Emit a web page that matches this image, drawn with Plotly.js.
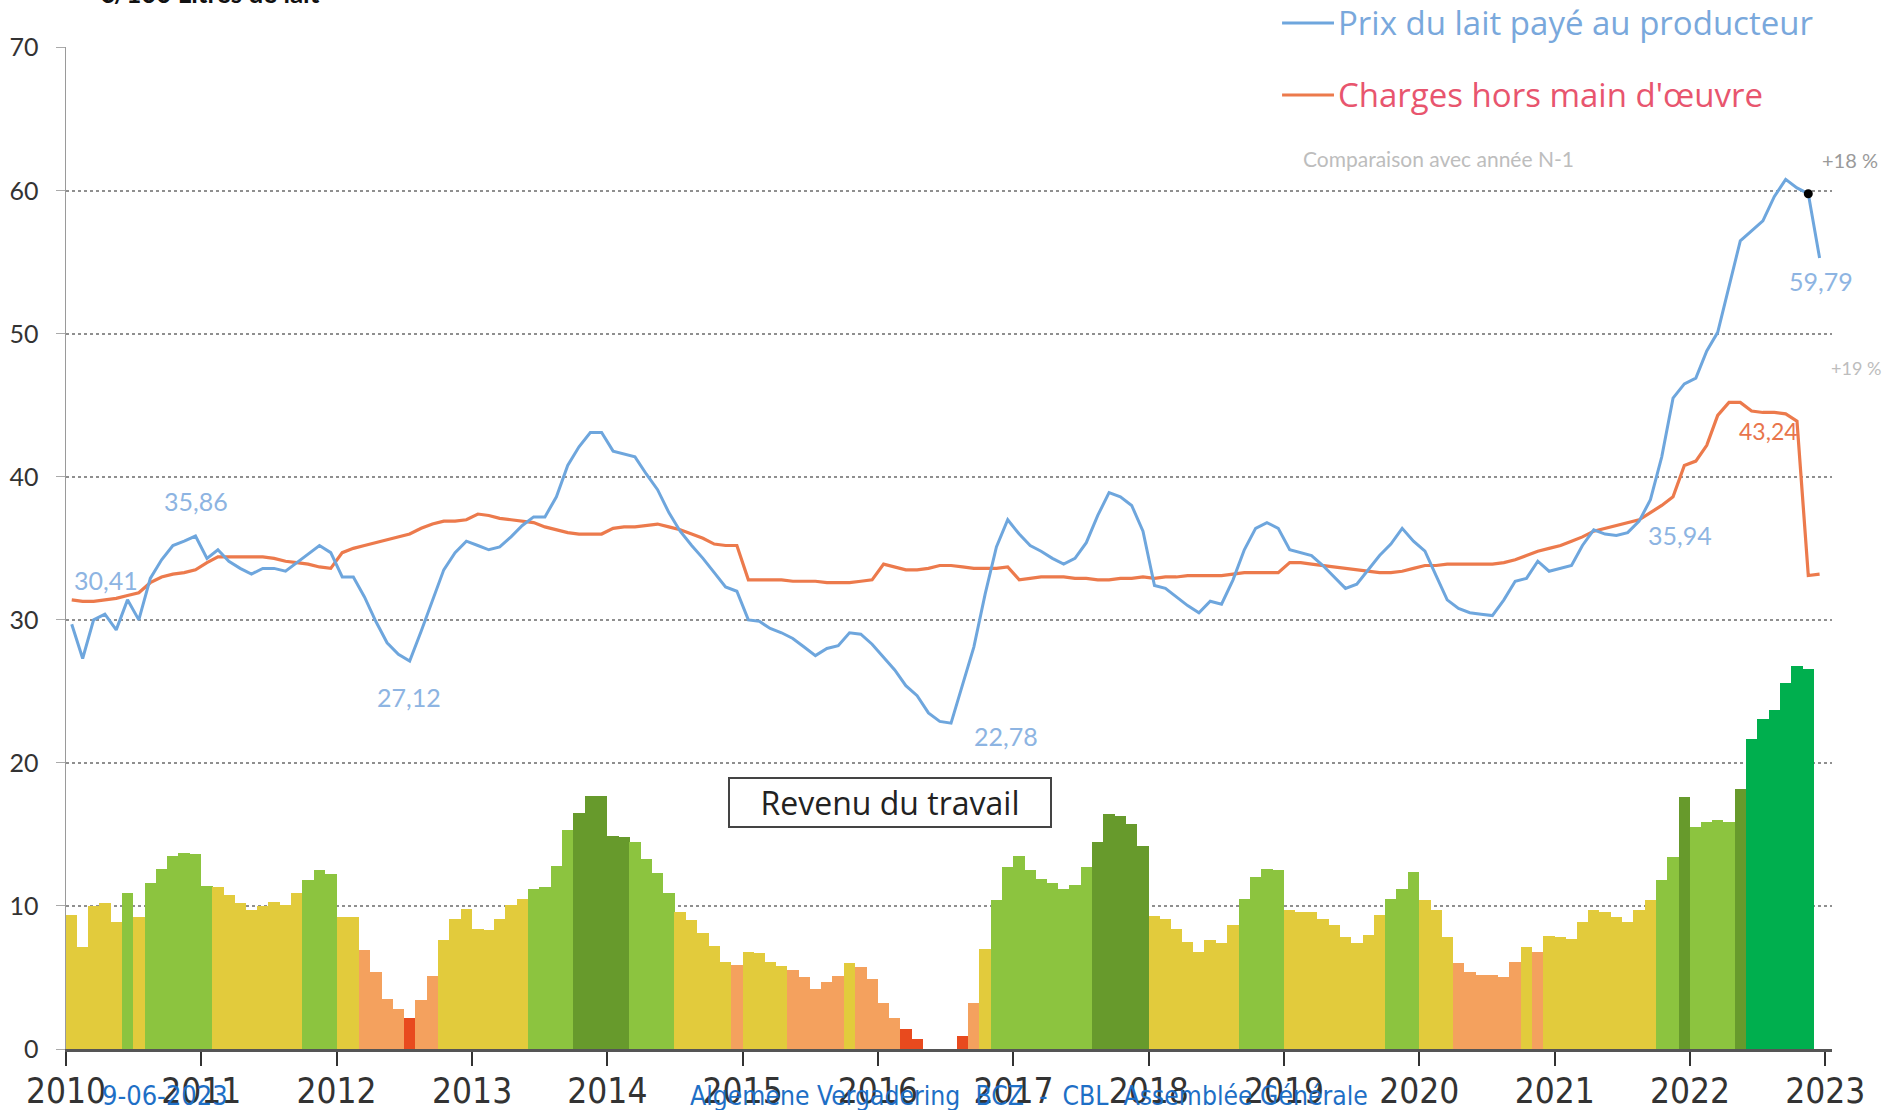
<!DOCTYPE html>
<html>
<head>
<meta charset="utf-8">
<script src="https://cdn.plot.ly/plotly-3.0.1.min.js"></script>
<style>
html,body{margin:0;padding:0;background:#fff;}
#chart{width:1893px;height:1110px;}
</style>
</head>
<body>
<div id="chart"></div>
<script>
// ---- Data (monthly, Jan 2010 .. Dec 2022) ----
const years = [2010,2011,2012,2013,2014,2015,2016,2017,2018,2019,2020,2021,2022];
const yearTicks = ['2010','2011','2012','2013','2014','2015','2016','2017','2018','2019','2020','2021','2022','2023'];

// Prix du lait payé au producteur (€/100 l)
const milkPrice = [
  29.7,27.3,30.0,30.4,29.3,31.4,30.0,32.9,34.2,35.2,35.5,35.86,
  34.3,34.9,34.1,33.6,33.2,33.6,33.6,33.4,34.0,34.6,35.2,34.7,
  33.0,33.0,31.6,29.9,28.4,27.6,27.12,29.2,31.3,33.5,34.7,35.5,
  35.2,34.9,35.1,35.8,36.6,37.2,37.2,38.6,40.8,42.1,43.1,43.1,
  41.8,41.6,41.4,40.2,39.1,37.5,36.2,35.2,34.3,33.3,32.3,32.0,
  30.0,29.9,29.4,29.1,28.7,28.1,27.5,28.0,28.2,29.1,29.0,28.3,
  27.4,26.5,25.4,24.7,23.5,22.9,22.78,25.5,28.1,31.8,35.1,37.0,
  36.0,35.2,34.8,34.3,33.9,34.3,35.4,37.3,38.9,38.6,38.0,36.2,
  32.4,32.2,31.6,31.0,30.5,31.3,31.1,32.8,34.9,36.4,36.8,36.4,
  34.9,34.7,34.5,33.8,33.0,32.2,32.5,33.5,34.5,35.3,36.4,35.5,
  34.8,33.1,31.4,30.8,30.5,30.4,30.3,31.4,32.7,32.9,34.1,33.4,
  33.6,33.8,35.2,36.3,36.0,35.9,36.1,36.9,38.4,41.4,45.5,46.5,
  46.9,48.8,50.1,53.3,56.5,57.2,57.9,59.6,60.8,60.2,59.79,55.3
];

// Charges hors main d'oeuvre (€/100 l)
const costs = [
  31.4,31.3,31.3,31.4,31.5,31.7,31.9,32.6,33.0,33.2,33.3,33.5,
  34.0,34.4,34.4,34.4,34.4,34.4,34.3,34.1,34.0,33.9,33.7,33.6,
  34.7,35.0,35.2,35.4,35.6,35.8,36.0,36.4,36.7,36.9,36.9,37.0,
  37.4,37.3,37.1,37.0,36.9,36.8,36.5,36.3,36.1,36.0,36.0,36.0,
  36.4,36.5,36.5,36.6,36.7,36.5,36.3,36.0,35.7,35.3,35.2,35.2,
  32.8,32.8,32.8,32.8,32.7,32.7,32.7,32.6,32.6,32.6,32.7,32.8,
  33.9,33.7,33.5,33.5,33.6,33.8,33.8,33.7,33.6,33.6,33.6,33.7,
  32.8,32.9,33.0,33.0,33.0,32.9,32.9,32.8,32.8,32.9,32.9,33.0,
  32.9,33.0,33.0,33.1,33.1,33.1,33.1,33.2,33.3,33.3,33.3,33.3,
  34.0,34.0,33.9,33.8,33.7,33.6,33.5,33.4,33.3,33.3,33.4,33.6,
  33.8,33.8,33.9,33.9,33.9,33.9,33.9,34.0,34.2,34.5,34.8,35.0,
  35.2,35.5,35.8,36.2,36.4,36.6,36.8,37.0,37.5,38.0,38.6,40.8,
  41.1,42.2,44.3,45.2,45.2,44.6,44.5,44.5,44.4,43.9,33.1,33.2
];

// Revenu du travail (bars, Jan 2010 .. Nov 2022)
const income = [
  9.4,7.1,10.0,10.2,8.9,10.9,9.2,11.6,12.6,13.5,13.7,13.6,
  11.4,11.3,10.8,10.2,9.7,10.0,10.3,10.1,10.9,11.8,12.5,12.2,
  9.2,9.2,6.9,5.4,3.5,2.8,2.2,3.4,5.1,7.6,9.1,9.8,
  8.4,8.3,9.1,10.1,10.5,11.2,11.3,12.8,15.3,16.5,17.7,17.7,
  14.9,14.8,14.5,13.3,12.3,10.9,9.6,9.0,8.1,7.2,6.1,5.9,
  6.8,6.7,6.1,5.8,5.5,5.0,4.2,4.7,5.1,6.0,5.7,4.9,
  3.2,2.2,1.4,0.7,0,0,0,0.9,3.2,7.0,10.4,12.7,
  13.5,12.5,11.9,11.6,11.2,11.5,12.7,14.5,16.4,16.3,15.7,14.2,
  9.3,9.1,8.4,7.5,6.8,7.6,7.4,8.7,10.5,12.0,12.6,12.5,
  9.7,9.6,9.6,9.1,8.7,7.8,7.4,8.0,9.4,10.5,11.2,12.4,
  10.4,9.7,7.8,6.0,5.4,5.2,5.2,5.0,6.1,7.1,6.8,7.9,
  7.8,7.7,8.9,9.7,9.6,9.2,8.9,9.7,10.4,11.8,13.4,17.6,
  15.5,15.9,16.0,15.9,18.2,21.7,23.1,23.7,25.6,26.8,26.6
];

// Colour class of each income bar
const incomeClass = [
  'Y','Y','Y','Y','Y','G','Y','G','G','G','G','G',
  'G','Y','Y','Y','Y','Y','Y','Y','Y','G','G','G',
  'Y','Y','O','O','O','O','R','O','O','Y','Y','Y',
  'Y','Y','Y','Y','Y','G','G','G','G','D','D','D',
  'D','D','G','G','G','G','Y','Y','Y','Y','Y','O',
  'Y','Y','Y','Y','O','O','O','O','O','Y','O','O',
  'O','O','R','R','R','R','R','R','O','Y','G','G',
  'G','G','G','G','G','G','G','D','D','D','D','D',
  'Y','Y','Y','Y','Y','Y','Y','Y','G','G','G','G',
  'Y','Y','Y','Y','Y','Y','Y','Y','Y','G','G','G',
  'Y','Y','Y','O','O','O','O','O','O','Y','O','Y',
  'Y','Y','Y','Y','Y','Y','Y','Y','Y','G','G','D',
  'G','G','G','G','D','B','B','B','B','B','B'
];
const classColors = {Y:'#E2CB3C', G:'#8CC43F', D:'#679A2C', B:'#00AF4E', O:'#F4A15E', R:'#E84A1E'};

// Month categories
const months = [];
years.forEach(y => { for (let m = 1; m <= 12; m++) months.push(y + '-' + String(m).padStart(2,'0') + '-01'); });

if (milkPrice.length !== months.length || costs.length !== months.length || income.length !== months.length - 1 || incomeClass.length !== income.length) {
  throw new Error('length mismatch ' + milkPrice.length + ' ' + costs.length + ' ' + income.length + ' ' + incomeClass.length);
}

const markIndex = 154; // point marked with the black dot (59,79)

const blue = '#6EA6DD';
const orange = '#EC7A4C';
const numFont = 'Lato, "Open Sans", sans-serif';
const wideFont = '"Open Sans", Lato, sans-serif';
const narrowFont = '"Liberation Sans Narrow", "DejaVu Sans Condensed", "Arial Narrow", sans-serif';

const traces = [
  {
    type: 'bar',
    x: months.slice(0, income.length),
    y: income,
    xperiod: 'M1', xperiodalignment: 'middle',
    width: 31 * 86400000,
    marker: {color: incomeClass.map(c => classColors[c]), line: {width: 0}},
    hoverinfo: 'x+y',
    showlegend: false
  },
  {
    type: 'scatter', mode: 'lines',
    x: months, y: costs,
    xperiod: 'M1', xperiodalignment: 'middle',
    line: {color: orange, width: 3.2},
    name: "Charges hors main d'œuvre",
    showlegend: false
  },
  {
    type: 'scatter', mode: 'lines',
    x: months, y: milkPrice,
    xperiod: 'M1', xperiodalignment: 'middle',
    line: {color: blue, width: 3},
    name: 'Prix du lait payé au producteur',
    showlegend: false
  },
  {
    type: 'scatter', mode: 'markers',
    x: [months[markIndex]], y: [milkPrice[markIndex]],
    xperiod: 'M1', xperiodalignment: 'middle',
    marker: {color: '#000', size: 9},
    showlegend: false
  }
];

const tickDates = yearTicks.map(t => t + '-01-01');

const ann = [];
function addText(text, x, y, opts) {
  ann.push(Object.assign({text: text, x: x, y: y, xref: 'paper', yref: 'paper', showarrow: false,
    xanchor: 'center', yanchor: 'middle'}, opts));
}
// title (partially cut at the top)
addText('<b>€/100 Litres de lait</b>', 0.0176, 1.036, {xanchor: 'left', yanchor: 'bottom', font: {family: numFont, size: 26, color: '#111'}});
// legend texts
addText('Prix du lait payé au producteur', 0.7191, 1.024, {xanchor: 'left', font: {family: wideFont, size: 33, color: '#79A8DC'}});
addText("Charges hors main d'œuvre", 0.7191, 0.9521, {xanchor: 'left', font: {family: wideFont, size: 33, color: '#E8556E'}});
addText('Comparaison avec année N-1', 0.6993, 0.8892, {xanchor: 'left', font: {family: numFont, size: 21, color: '#BDBDBD'}});
addText('+18 %', 1.0102, 0.8872, {font: {family: numFont, size: 20, color: '#9A9A9A'}});
addText('+19 %', 1.0136, 0.6796, {font: {family: numFont, size: 18, color: '#BDBDBD'}});
// value labels
const labBlue = {family: numFont, size: 25, color: '#8DB4E2'};
addText('30,41', 0.0227, 0.4681, {font: labBlue});
addText('35,86', 0.0736, 0.5469, {font: labBlue});
addText('27,12', 0.1942, 0.3513, {font: labBlue});
addText('22,78', 0.5323, 0.3124, {font: labBlue});
addText('35,94', 0.9139, 0.5130, {font: labBlue});
addText('59,79', 0.9938, 0.7665, {font: labBlue});
addText('43,24', 0.9643, 0.6168, {font: {family: numFont, size: 23, color: '#E8754C'}});
// box
addText('Revenu du travail', 0.4666, 0.2465, {font: {family: wideFont, size: 32, color: '#222'},
  bordercolor: '#444', borderwidth: 2, borderpad: 1, width: 318, height: 45, bgcolor: 'rgba(255,255,255,0)'});
// footer
const footFont = {family: narrowFont, size: 27, color: '#1E6FC6'};
addText('9-06-2023', 0.0193, -0.0469, {xanchor: 'left', font: footFont});
addText('Algemene Vergadering\u00A0 BCZ\u00A0 -\u00A0 CBL\u00A0 Assemblée Générale', 0.3522, -0.0469, {xanchor: 'left', font: {family: narrowFont, size: 26.3, color: '#1E6FC6'}});

const shapes = [
  {type: 'line', xref: 'paper', yref: 'paper', x0: 0.6886, x1: 0.7180, y0: 1.024, y1: 1.024, line: {color: blue, width: 3}},
  {type: 'line', xref: 'paper', yref: 'paper', x0: 0.6886, x1: 0.7180, y0: 0.9521, y1: 0.9521, line: {color: orange, width: 3}}
];

const layout = {
  width: 1893, height: 1110,
  margin: {l: 66, r: 61, t: 47, b: 61, pad: 0},
  paper_bgcolor: '#fff', plot_bgcolor: '#fff',
  showlegend: false,
  bargap: 0,
  xaxis: {
    type: 'date',
    range: ['2010-01-01', '2023-01-19'],
    tickmode: 'array', tickvals: tickDates, ticktext: yearTicks,
    ticks: 'outside', ticklen: 14, tickwidth: 2, tickcolor: '#333',
    ticklabelstandoff: -5,
    showline: true, linecolor: '#555', linewidth: 2.5,
    showgrid: false, zeroline: false,
    tickfont: {family: narrowFont, size: 35, color: '#333'},
    fixedrange: true
  },
  yaxis: {
    range: [0, 70.05],
    tickmode: 'array', tickvals: [0,10,20,30,40,50,60,70],
    showgrid: true, gridcolor: '#8f8f8f', gridwidth: 1.5, griddash: 'dot',
    showline: true, linecolor: '#9a9a9a', linewidth: 1.5,
    ticks: 'outside', ticklen: 9, tickcolor: '#aaa', tickwidth: 1,
    zeroline: false,
    ticklabelstandoff: 12,
    tickfont: {family: numFont, size: 25, color: '#333'},
    fixedrange: true
  },
  annotations: ann,
  shapes: shapes
};

Plotly.newPlot('chart', traces, layout, {displayModeBar: false, staticPlot: true});
</script>
</body>
</html>
